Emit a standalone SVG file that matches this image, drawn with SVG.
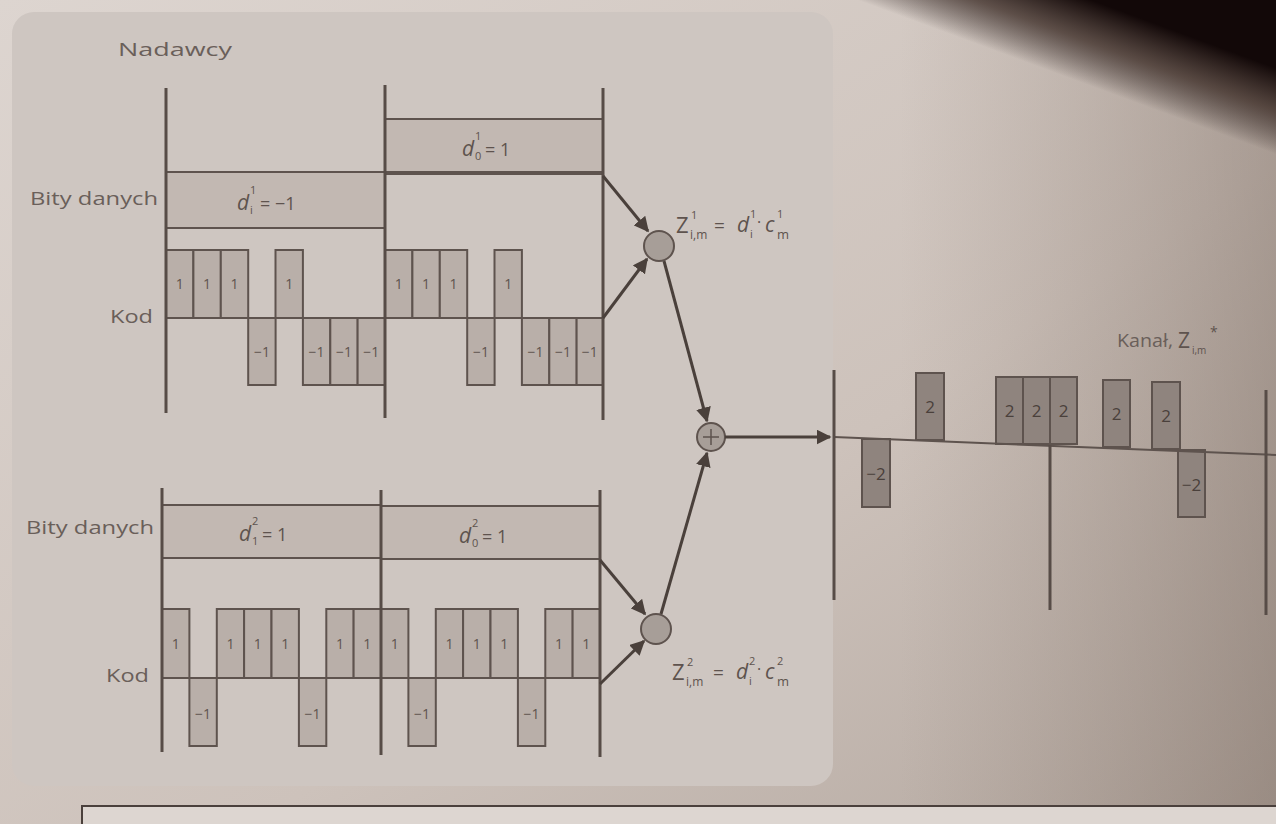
<svg xmlns="http://www.w3.org/2000/svg" width="1276" height="824" viewBox="0 0 1276 824">
<defs>
<linearGradient id="page" x1="0" y1="0" x2="1" y2="1">
<stop offset="0" stop-color="#ddd5d0"/>
<stop offset="0.6" stop-color="#cdc2bb"/>
<stop offset="1" stop-color="#b3a79f"/>
</linearGradient>
<linearGradient id="rightshade" x1="0" y1="0" x2="1" y2="0">
<stop offset="0" stop-color="#8a7a70" stop-opacity="0"/>
<stop offset="1" stop-color="#7a6a60" stop-opacity="0.45"/>
</linearGradient>
<linearGradient id="corner" gradientUnits="userSpaceOnUse" x1="1096" y1="88" x2="1124" y2="12">
<stop offset="0" stop-color="#120808" stop-opacity="0"/>
<stop offset="0.5" stop-color="#3a2a24" stop-opacity="0.75"/>
<stop offset="1" stop-color="#120808" stop-opacity="1"/>
</linearGradient>
<marker id="arr" viewBox="0 0 10 10" refX="9" refY="5" markerWidth="5" markerHeight="5" orient="auto" markerUnits="strokeWidth">
<path d="M0,0 L10,5 L0,10 Z" fill="#4a403b"/>
</marker>
<style>
.axis{stroke:#574c47;stroke-width:3;fill:none}
.thin{stroke:#5e534e;stroke-width:2;fill:none}
.dbox{fill:#c2b8b2;stroke:#5e534e;stroke-width:2}
.chip{fill:#b9afa9;stroke:#5e534e;stroke-width:2}
.bar{fill:#8f847e;stroke:#5e534e;stroke-width:2}
.lbl{font-family:"Open Sans","Noto Sans",sans-serif;font-size:19px;fill:#6a5f5a}
.cv{font-family:"Open Sans","Noto Sans",sans-serif;font-size:14px;fill:#5e534e;text-anchor:middle}
.bv{font-family:"Open Sans","Noto Sans",sans-serif;font-size:17px;fill:#4a403b;text-anchor:middle}
.m{font-family:"Open Sans","Noto Sans",sans-serif;fill:#5e534e}
.conn{stroke:#4a403b;stroke-width:3;fill:none}
.node{fill:#a79e98;stroke:#5e534e;stroke-width:2}
</style>
</defs>

<rect x="0" y="0" width="1276" height="824" fill="url(#page)"/>
<rect x="900" y="0" width="376" height="824" fill="url(#rightshade)"/>
<rect x="840" y="0" width="436" height="360" fill="url(#corner)"/>

<!-- panel -->
<rect x="12" y="12" width="821" height="774" rx="22" fill="#cec6c1"/>
<text class="lbl" x="118" y="56" font-size="21" textLength="114" lengthAdjust="spacingAndGlyphs">Nadawcy</text>

<!-- bottom box -->
<rect x="82" y="806" width="1220" height="40" fill="#ddd6d1" stroke="#4a403c" stroke-width="2"/>

<!-- Sender 1 -->
<g id="sender1">
<text class="lbl" x="30" y="205" textLength="128" lengthAdjust="spacingAndGlyphs">Bity danych</text>
<text class="lbl" x="110" y="323" textLength="43" lengthAdjust="spacingAndGlyphs">Kod</text>
<rect class="dbox" x="166" y="172" width="219" height="56"/>
<rect class="dbox" x="385" y="119" width="218" height="55"/>
<line class="thin" x1="385" y1="172" x2="603" y2="172"/>
<text class="m" x="237" y="210" font-size="21" font-style="italic">d</text><text class="m" x="250" y="194" font-size="11">1</text><text class="m" x="250" y="214" font-size="11">i</text><text class="m" x="260" y="210" font-size="18">= −1</text>
<text class="m" x="462" y="156" font-size="21" font-style="italic">d</text><text class="m" x="475" y="140" font-size="11">1</text><text class="m" x="475" y="160" font-size="11">0</text><text class="m" x="485" y="156" font-size="18">= 1</text>
<g id="code1">
<rect class="chip" x="166" y="250" width="27.4" height="68"/>
<rect class="chip" x="193.4" y="250" width="27.4" height="68"/>
<rect class="chip" x="220.8" y="250" width="27.4" height="68"/>
<rect class="chip" x="248.2" y="318" width="27.4" height="67"/>
<rect class="chip" x="275.5" y="250" width="27.4" height="68"/>
<rect class="chip" x="302.9" y="318" width="27.4" height="67"/>
<rect class="chip" x="330.3" y="318" width="27.4" height="67"/>
<rect class="chip" x="357.6" y="318" width="27.4" height="67"/>
<rect class="chip" x="385" y="250" width="27.4" height="68"/>
<rect class="chip" x="412.4" y="250" width="27.4" height="68"/>
<rect class="chip" x="439.8" y="250" width="27.4" height="68"/>
<rect class="chip" x="467.2" y="318" width="27.4" height="67"/>
<rect class="chip" x="494.5" y="250" width="27.4" height="68"/>
<rect class="chip" x="521.9" y="318" width="27.4" height="67"/>
<rect class="chip" x="549.3" y="318" width="27.4" height="67"/>
<rect class="chip" x="576.6" y="318" width="26.4" height="67"/>
<text class="cv" x="179.7" y="289">1</text><text class="cv" x="207.1" y="289">1</text><text class="cv" x="234.5" y="289">1</text>
<text class="cv" x="261.9" y="357">−1</text><text class="cv" x="289.2" y="289">1</text>
<text class="cv" x="316.6" y="357">−1</text><text class="cv" x="344" y="357">−1</text><text class="cv" x="371.3" y="357">−1</text>
<text class="cv" x="398.7" y="289">1</text><text class="cv" x="426.1" y="289">1</text><text class="cv" x="453.5" y="289">1</text>
<text class="cv" x="480.9" y="357">−1</text><text class="cv" x="508.2" y="289">1</text>
<text class="cv" x="535.6" y="357">−1</text><text class="cv" x="563" y="357">−1</text><text class="cv" x="589.8" y="357">−1</text>
</g>
<line class="thin" x1="166" y1="318" x2="603" y2="318"/>
<line class="axis" x1="166" y1="88" x2="166" y2="413"/>
<line class="axis" x1="385" y1="85" x2="385" y2="418"/>
<line class="axis" x1="603" y1="88" x2="603" y2="420"/>
</g>

<!-- Sender 2 -->
<g id="sender2">
<text class="lbl" x="26" y="534" textLength="128" lengthAdjust="spacingAndGlyphs">Bity danych</text>
<text class="lbl" x="106" y="682" textLength="43" lengthAdjust="spacingAndGlyphs">Kod</text>
<rect class="dbox" x="162" y="505" width="219" height="53"/>
<rect class="dbox" x="381" y="506" width="219" height="53"/>
<text class="m" x="239" y="541" font-size="21" font-style="italic">d</text><text class="m" x="252" y="525" font-size="11">2</text><text class="m" x="252" y="545" font-size="11">1</text><text class="m" x="262" y="541" font-size="18">= 1</text>
<text class="m" x="459" y="543" font-size="21" font-style="italic">d</text><text class="m" x="472" y="527" font-size="11">2</text><text class="m" x="472" y="547" font-size="11">0</text><text class="m" x="482" y="543" font-size="18">= 1</text>
<g id="code2">
<rect class="chip" x="162" y="609" width="27.4" height="69"/>
<rect class="chip" x="189.4" y="678" width="27.4" height="68"/>
<rect class="chip" x="216.8" y="609" width="27.4" height="69"/>
<rect class="chip" x="244.1" y="609" width="27.4" height="69"/>
<rect class="chip" x="271.5" y="609" width="27.4" height="69"/>
<rect class="chip" x="298.9" y="678" width="27.4" height="68"/>
<rect class="chip" x="326.3" y="609" width="27.4" height="69"/>
<rect class="chip" x="353.6" y="609" width="27.4" height="69"/>
<rect class="chip" x="381" y="609" width="27.4" height="69"/>
<rect class="chip" x="408.4" y="678" width="27.4" height="68"/>
<rect class="chip" x="435.8" y="609" width="27.4" height="69"/>
<rect class="chip" x="463.1" y="609" width="27.4" height="69"/>
<rect class="chip" x="490.5" y="609" width="27.4" height="69"/>
<rect class="chip" x="517.9" y="678" width="27.4" height="68"/>
<rect class="chip" x="545.3" y="609" width="27.4" height="69"/>
<rect class="chip" x="572.6" y="609" width="27.4" height="69"/>
<text class="cv" x="175.7" y="649">1</text><text class="cv" x="203.1" y="719">−1</text>
<text class="cv" x="230.5" y="649">1</text><text class="cv" x="257.8" y="649">1</text><text class="cv" x="285.2" y="649">1</text>
<text class="cv" x="312.6" y="719">−1</text><text class="cv" x="340" y="649">1</text><text class="cv" x="367.3" y="649">1</text>
<text class="cv" x="394.7" y="649">1</text><text class="cv" x="422.1" y="719">−1</text>
<text class="cv" x="449.5" y="649">1</text><text class="cv" x="476.8" y="649">1</text><text class="cv" x="504.2" y="649">1</text>
<text class="cv" x="531.6" y="719">−1</text><text class="cv" x="559" y="649">1</text><text class="cv" x="586.3" y="649">1</text>
</g>
<line class="thin" x1="162" y1="678" x2="600" y2="678"/>
<line class="axis" x1="162" y1="488" x2="162" y2="752"/>
<line class="axis" x1="381" y1="490" x2="381" y2="755"/>
<line class="axis" x1="600" y1="490" x2="600" y2="757"/>
</g>

<!-- Channel -->
<g id="channel">
<text class="lbl" x="1117" y="347" font-size="17" textLength="56" lengthAdjust="spacingAndGlyphs">Kanał,</text>
<text class="m" x="1178" y="348" font-size="21">Z</text><text class="m" x="1192" y="354" font-size="10">i,m</text><text class="m" x="1210" y="337" font-size="14">*</text>
<rect class="bar" x="862" y="439" width="28" height="68"/>
<rect class="bar" x="916" y="373" width="28" height="67"/>
<rect class="bar" x="996" y="377" width="27" height="67"/>
<rect class="bar" x="1023" y="377" width="27" height="67"/>
<rect class="bar" x="1050" y="377" width="27" height="67"/>
<rect class="bar" x="1103" y="380" width="27" height="67"/>
<rect class="bar" x="1152" y="382" width="28" height="67"/>
<rect class="bar" x="1178" y="450" width="27" height="67"/>
<text class="bv" x="876" y="480">−2</text>
<text class="bv" x="930" y="413">2</text>
<text class="bv" x="1009.5" y="417">2</text><text class="bv" x="1036.5" y="417">2</text><text class="bv" x="1063.5" y="417">2</text>
<text class="bv" x="1116.5" y="420">2</text>
<text class="bv" x="1166" y="422">2</text>
<text class="bv" x="1191.5" y="491">−2</text>
<line class="thin" x1="834" y1="437" x2="1276" y2="455"/>
<line class="axis" x1="834" y1="370" x2="834" y2="600"/>
<line class="axis" x1="1050" y1="445" x2="1050" y2="610"/>
<line class="axis" x1="1266" y1="390" x2="1266" y2="615"/>
</g>

<!-- Nodes -->
<g id="mult1"><circle class="node" cx="659" cy="246" r="15"/></g>
<g id="mult2"><circle class="node" cx="656" cy="629" r="15"/></g>
<g id="adder"><circle class="node" cx="711" cy="437" r="14"/><path d="M703,437 H719 M711,429 V445" stroke="#5e534e" stroke-width="1.5"/></g>

<g id="formula1">
<text class="m" x="676" y="233" font-size="22">Z</text><text class="m" x="691" y="219" font-size="11">1</text><text class="m" x="690" y="239" font-size="12">i,m</text>
<text class="m" x="714" y="232" font-size="19">=</text>
<text class="m" x="737" y="232" font-size="21" font-style="italic">d</text><text class="m" x="750" y="218" font-size="11">1</text><text class="m" x="750" y="238" font-size="11">i</text>
<text class="m" x="757" y="228" font-size="16">·</text>
<text class="m" x="765" y="232" font-size="21" font-style="italic">c</text><text class="m" x="777" y="218" font-size="11">1</text><text class="m" x="777" y="239" font-size="13">m</text>
</g>
<g id="formula2">
<text class="m" x="672" y="680" font-size="22">Z</text><text class="m" x="687" y="666" font-size="11">2</text><text class="m" x="686" y="686" font-size="12">i,m</text>
<text class="m" x="713" y="679" font-size="19">=</text>
<text class="m" x="736" y="679" font-size="21" font-style="italic">d</text><text class="m" x="749" y="665" font-size="11">2</text><text class="m" x="749" y="685" font-size="11">i</text>
<text class="m" x="757" y="675" font-size="16">·</text>
<text class="m" x="765" y="679" font-size="21" font-style="italic">c</text><text class="m" x="777" y="665" font-size="11">2</text><text class="m" x="777" y="686" font-size="13">m</text>
</g>

<!-- Connectors -->
<g id="connectors">
<line class="conn" x1="603" y1="176" x2="648" y2="231" marker-end="url(#arr)"/>
<line class="conn" x1="603" y1="318" x2="647" y2="259" marker-end="url(#arr)"/>
<line class="conn" x1="664" y1="261" x2="707" y2="421" marker-end="url(#arr)"/>
<line class="conn" x1="600" y1="560" x2="645" y2="614" marker-end="url(#arr)"/>
<line class="conn" x1="600" y1="684" x2="644" y2="641" marker-end="url(#arr)"/>
<line class="conn" x1="661" y1="614" x2="707" y2="453" marker-end="url(#arr)"/>
<line class="conn" x1="725" y1="437" x2="830" y2="437" marker-end="url(#arr)"/>
</g>
</svg>
